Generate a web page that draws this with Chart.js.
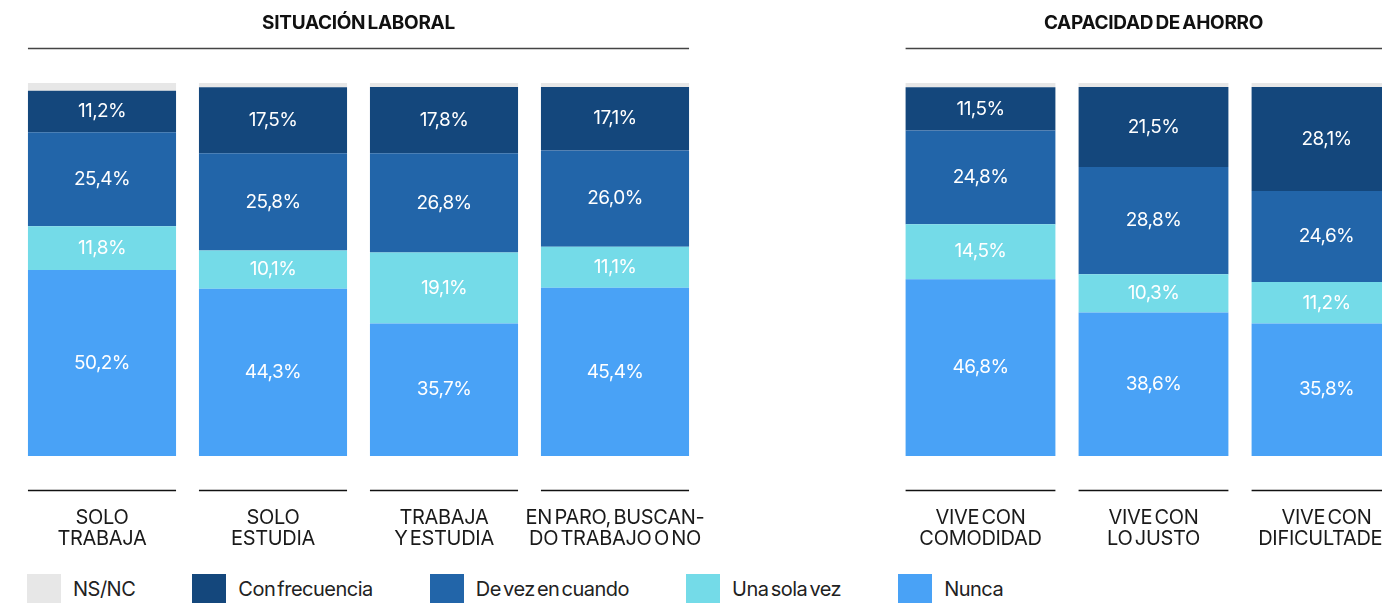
<!DOCTYPE html>
<html>
<head>
<meta charset="utf-8">
<script src="https://cdn.jsdelivr.net/npm/chart.js@4/dist/chart.umd.min.js"></script>
<style>
  html, body { margin: 0; padding: 0; background: #fff; overflow: hidden; }
  body { width: 1382px; height: 603px; position: relative; font-family: Inter, "Noto Sans", sans-serif; }
  .chart-box { position: absolute; top: 0; height: 560px; }
  #left-box { left: 0; width: 720px; }
  #right-box { left: 880px; width: 560px; }
  #legend { position: absolute; left: 27px; top: 574px; display: flex; }
  .item { display: flex; align-items: center; margin-right: 57px; }
  .swatch { width: 34px; height: 30px; margin-right: 12px; }
  .item span { font-size: 20px; color: #222; letter-spacing: -0.5px; word-spacing: -3px; }
</style>
</head>
<body>
<div class="chart-box" id="left-box"><canvas id="left-chart"></canvas></div>
<div class="chart-box" id="right-box"><canvas id="right-chart"></canvas></div>
<div id="legend"></div>

<script>
// Categorías de cada grupo
const laboralLabels = [['SOLO', 'TRABAJA'], ['SOLO', 'ESTUDIA'], ['TRABAJA', 'Y ESTUDIA'], ['EN PARO, BUSCAN-', 'DO TRABAJO O NO']];
const ahorroLabels = [['VIVE CON', 'COMODIDAD'], ['VIVE CON', 'LO JUSTO'], ['VIVE CON', 'DIFICULTADES']];

// Valores (%) - situación laboral
const laboralNunca = [50.2, 44.3, 35.7, 45.4];
const laboralUnaVez = [11.8, 10.1, 19.1, 11.1];
const laboralDeVez = [25.4, 25.8, 26.8, 26.0];
const laboralFrecuencia = [11.2, 17.5, 17.8, 17.1];
const laboralNsnc = [2.1, 1.1, 1.1, 1.1];

// Valores (%) - capacidad de ahorro
const ahorroNunca = [46.8, 38.6, 35.8];
const ahorroUnaVez = [14.5, 10.3, 11.2];
const ahorroDeVez = [24.8, 28.8, 24.6];
const ahorroFrecuencia = [11.5, 21.5, 28.1];
const ahorroNsnc = [1.1, 1.1, 1.1];

// Series (de abajo hacia arriba)
const seriesNames = ['Nunca', 'Una sola vez', 'De vez en cuando', 'Con frecuencia', 'NS/NC'];
const seriesColors = ['#49a2f6', '#74dbe8', '#2265a9', '#14477c', '#e7e7e7'];

// Construir datasets normalizados al 100%
function buildDatasets(groups) {
  const totals = groups[0].map((_, i) => groups.reduce((s, g) => s + g[i], 0));
  return groups.map((values, k) => ({
    label: seriesNames[k],
    raw: values,
    data: values.map((v, i) => v / totals[i] * 100),
    backgroundColor: seriesColors[k],
    borderWidth: 0,
    showLabel: k < 4
  }));
}

// Plugin: título, líneas y etiquetas
const decorPlugin = {
  id: 'decor',
  afterDatasetsDraw(chart, args, opts) {
    const { ctx, chartArea } = chart;
    const x = chart.scales.x;
    const meta0 = chart.getDatasetMeta(0);
    const first = meta0.data[0];
    const last = meta0.data[meta0.data.length - 1];
    const half = first.width / 2;

    // valores dentro de las barras
    ctx.save();
    ctx.fillStyle = '#ffffff';
    ctx.font = '19px Inter, "Noto Sans", sans-serif';
    ctx.letterSpacing = '-0.6px';
    ctx.textAlign = 'center';
    ctx.textBaseline = 'middle';
    chart.data.datasets.forEach((ds, k) => {
      if (!ds.showLabel) return;
      chart.getDatasetMeta(k).data.forEach((bar, i) => {
        const txt = ds.raw[i].toFixed(1).replace('.', ',') + '%';
        ctx.fillText(txt, bar.x, (bar.y + bar.base) / 2);
      });
    });

    // título del grupo
    const left = first.x - half;
    const right = last.x + half;
    ctx.fillStyle = '#111';
    ctx.font = 'bold 19px Inter, "Noto Sans", sans-serif';
    ctx.letterSpacing = '-0.3px';
    ctx.wordSpacing = '-2px';
    ctx.fillText(opts.title, (left + right) / 2, 23);
    ctx.strokeStyle = '#444';
    ctx.lineWidth = 1.5;
    ctx.beginPath();
    ctx.moveTo(left, 48.5);
    ctx.lineTo(right, 48.5);
    ctx.stroke();

    // líneas y etiquetas de categoría
    ctx.strokeStyle = '#111';
    ctx.fillStyle = '#1a1a1a';
    ctx.font = '20px Inter, "Noto Sans", sans-serif';
    ctx.letterSpacing = '-0.3px';
    ctx.wordSpacing = '-3px';
    meta0.data.forEach((bar, i) => {
      ctx.beginPath();
      ctx.moveTo(bar.x - half, chartArea.bottom + 34.5);
      ctx.lineTo(bar.x + half, chartArea.bottom + 34.5);
      ctx.stroke();
      const lines = chart.data.labels[i];
      lines.forEach((line, j) => {
        ctx.fillText(line, x.getPixelForValue(i), chartArea.bottom + 62 + j * 21);
      });
    });
    ctx.restore();
  }
};

function makeChart(id, labels, groups, title, pad) {
  return new Chart(document.getElementById(id), {
    type: 'bar',
    data: { labels: labels, datasets: buildDatasets(groups) },
    options: {
      responsive: true,
      maintainAspectRatio: false,
      animation: false,
      layout: { padding: pad },
      datasets: { bar: { categoryPercentage: 1, barPercentage: 0.866 } },
      scales: {
        x: { stacked: true, display: false },
        y: { stacked: true, display: false, min: 0, max: 100 }
      },
      plugins: {
        legend: { display: false },
        tooltip: { enabled: false },
        decor: { title: title }
      }
    },
    plugins: [decorPlugin]
  });
}

makeChart('left-chart', laboralLabels,
  [laboralNunca, laboralUnaVez, laboralDeVez, laboralFrecuencia, laboralNsnc],
  'SITUACIÓN LABORAL', { top: 83, bottom: 104, left: 16.5, right: 19.5 });

makeChart('right-chart', ahorroLabels,
  [ahorroNunca, ahorroUnaVez, ahorroDeVez, ahorroFrecuencia, ahorroNsnc],
  'CAPACIDAD DE AHORRO', { top: 83, bottom: 104, left: 14, right: 27 });

// Leyenda en HTML (orden inverso al apilado)
const legendEl = document.getElementById('legend');
for (let k = seriesNames.length - 1; k >= 0; k--) {
  const item = document.createElement('div');
  item.className = 'item';
  item.innerHTML = '<div class="swatch" style="background:' + seriesColors[k] + '"></div><span>' + seriesNames[k] + '</span>';
  legendEl.appendChild(item);
}
</script>
</body>
</html>
